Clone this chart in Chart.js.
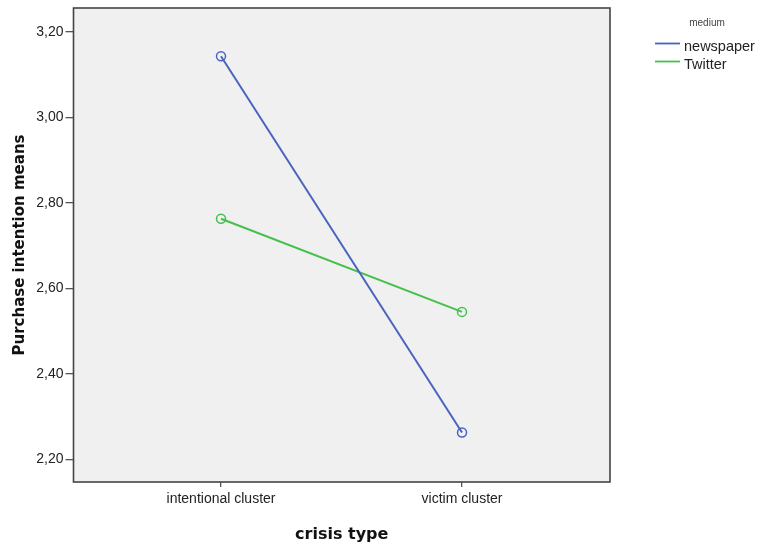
<!DOCTYPE html>
<html>
<head>
<meta charset="utf-8">
<script src="https://cdn.jsdelivr.net/npm/chart.js@4"></script>
<style>
  html, body { margin: 0; padding: 0; background: #fff; }
  #wrap { width: 761px; height: 544px; }
</style>
</head>
<body>
<div id="wrap"><canvas id="js-line-chart" width="761" height="544"></canvas></div>
<script>
// crisis types on the x axis
const categories = ['intentional cluster', 'victim cluster'];
// purchase intention means per medium
const newspaperMeans = [3.143, 2.263];
const twitterMeans = [2.763, 2.545];
const yTicks = [2.2, 2.4, 2.6, 2.8, 3.0, 3.2];
const seriesNames = ['newspaper', 'Twitter'];
const seriesColors = ['#4a63c0', '#46c04c'];

const toPoints = (arr) => arr.map((v, i) => ({ x: i, y: v }));

// grey plot background + frame, like SPSS
const plotFrame = {
  id: 'plotFrame',
  beforeDraw(chart) {
    const { ctx, chartArea: a } = chart;
    ctx.save();
    ctx.fillStyle = '#f0f0f0';
    ctx.fillRect(a.left, a.top, a.right - a.left, a.bottom - a.top);
    ctx.restore();
  },
  afterDatasetsDraw(chart) {
    const { ctx, chartArea: a } = chart;
    ctx.save();
    ctx.strokeStyle = '#444';
    ctx.lineWidth = 1.6;
    ctx.strokeRect(a.left, a.top, a.right - a.left, a.bottom - a.top);
    ctx.restore();
  }
};

// legend at the top right
const sideLegend = {
  id: 'sideLegend',
  afterDraw(chart) {
    const { ctx } = chart;
    ctx.save();
    ctx.fillStyle = '#444';
    ctx.font = '10px "Liberation Sans", Arial, sans-serif';
    ctx.textAlign = 'center';
    ctx.textBaseline = 'middle';
    ctx.fillText('medium', 707, 23);
    ctx.font = '14.5px "Liberation Sans", Arial, sans-serif';
    ctx.textAlign = 'left';
    seriesNames.forEach((name, i) => {
      const y = 43.5 + i * 18;
      ctx.strokeStyle = seriesColors[i];
      ctx.lineWidth = 1.8;
      ctx.beginPath();
      ctx.moveTo(655, y);
      ctx.lineTo(680, y);
      ctx.stroke();
      ctx.fillStyle = '#222';
      ctx.fillText(name, 684, y + 3);
    });
    ctx.restore();
  }
};

const ctx = document.getElementById('js-line-chart').getContext('2d');

new Chart(ctx, {
  type: 'line',
  data: {
    datasets: [
      {
        label: seriesNames[0],
        data: toPoints(newspaperMeans),
        borderColor: seriesColors[0],
        backgroundColor: 'transparent',
        borderWidth: 2,
        pointRadius: 4.5,
        pointBorderWidth: 1.5,
        pointBackgroundColor: 'transparent',
        pointBorderColor: seriesColors[0]
      },
      {
        label: seriesNames[1],
        data: toPoints(twitterMeans),
        borderColor: seriesColors[1],
        backgroundColor: 'transparent',
        borderWidth: 2,
        pointRadius: 4.5,
        pointBorderWidth: 1.5,
        pointBackgroundColor: 'transparent',
        pointBorderColor: seriesColors[1]
      }
    ]
  },
  options: {
    responsive: false,
    animation: false,
    layout: { padding: { top: 8, right: 151, left: 0, bottom: 0 } },
    plugins: { legend: { display: false }, tooltip: { enabled: false } },
    scales: {
      x: {
        type: 'linear',
        min: -0.612,
        max: 1.614,
        afterBuildTicks: (scale) => {
          scale.ticks = categories.map((c, i) => ({ value: i }));
        },
        afterFit: (scale) => { scale.height = 62; },
        ticks: {
          padding: 4,
          color: '#222',
          font: { family: '"Liberation Sans", Arial, sans-serif', size: 14 },
          callback: (v) => categories[v]
        },
        grid: { drawOnChartArea: false, drawTicks: true, tickLength: 5, color: '#555', lineWidth: 1.3 },
        border: { display: false },
        title: {
          display: true,
          text: 'crisis type',
          color: '#111',
          font: { family: '"DejaVu Sans", Verdana, sans-serif', size: 16, weight: 'bold' },
          padding: { top: 0, bottom: 0 }
        }
      },
      y: {
        min: 2.147,
        max: 3.256,
        afterBuildTicks: (scale) => {
          scale.ticks = yTicks.map((v) => ({ value: v }));
        },
        afterFit: (scale) => { scale.width = 73.5; },
        ticks: {
          padding: 2,
          color: '#222',
          font: { family: '"Liberation Sans", Arial, sans-serif', size: 14, lineHeight: 0.8 },
          callback: (v) => v.toFixed(2).replace('.', ',')
        },
        grid: { drawOnChartArea: false, drawTicks: true, tickLength: 8, color: '#555', lineWidth: 1.3 },
        border: { display: false },
        title: {
          display: true,
          text: 'Purchase intention means',
          color: '#111',
          font: { family: '"DejaVu Sans", Verdana, sans-serif', size: 15, weight: 'bold' },
          padding: { top: 11, bottom: 0 }
        }
      }
    }
  },
  plugins: [plotFrame, sideLegend]
});
</script>
</body>
</html>
